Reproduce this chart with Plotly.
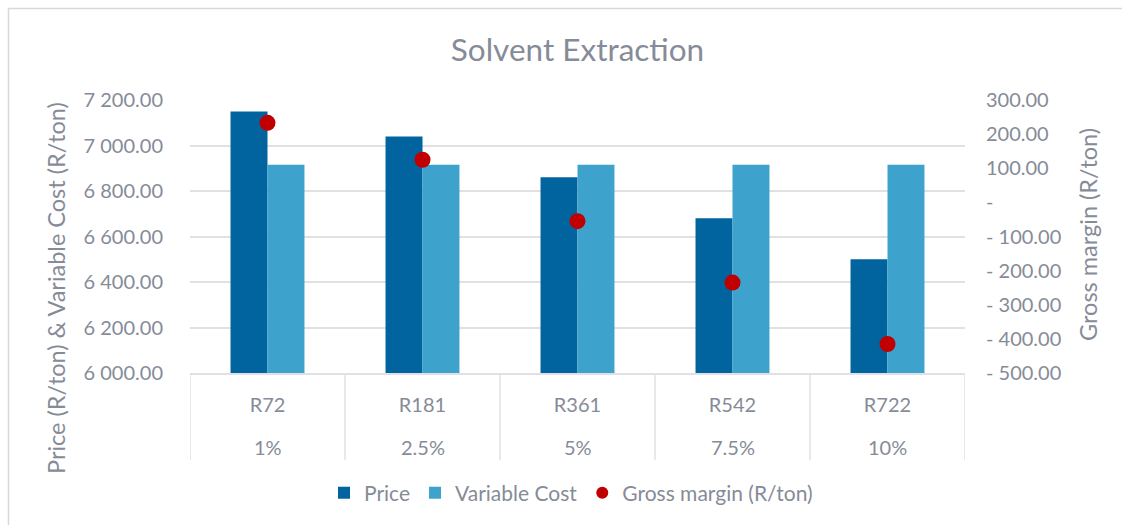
import plotly.graph_objects as go

categories = ["R72", "R181", "R361", "R542", "R722"]
percent_labels = ["1%", "2.5%", "5%", "7.5%", "10%"]
price = [7150, 7040, 6860, 6680, 6500]
variable_cost = [6915, 6915, 6915, 6915, 6915]
gross_margin = [233, 125, -55, -235, -415]

left_tickvals = [6000, 6200, 6400, 6600, 6800, 7000, 7200]
left_ticktext = ["6 000.00", "6 200.00", "6 400.00", "6 600.00", "6 800.00", "7 000.00", "7 200.00"]
right_tickvals = [-500, -400, -300, -200, -100, 0, 100, 200, 300]
right_ticktext = ["- 500.00", "- 400.00", "- 300.00", "- 200.00", "- 100.00", "-", "100.00", "200.00", "300.00"]

FONT = "Lato, Carlito, Calibri, sans-serif"
TXT = "#868b98"
GRID = "#e1e1e4"

fig = go.Figure()
fig.add_trace(go.Bar(name="Price", x=categories, y=price, marker=dict(color="#02649f", line=dict(width=0))))
fig.add_trace(go.Bar(name="Variable Cost", x=categories, y=variable_cost, marker=dict(color="#3ea3cc", line=dict(width=0))))
fig.add_trace(go.Scatter(name="Gross margin (R/ton)", x=categories, y=gross_margin, yaxis="y2",
                         mode="markers", marker=dict(color="#c00000", size=16)))

W, H = 1122, 525
L, R, T, B = 190, 965, 100, 373
pw, ph = R - L, B - T

def px_x(p):
    return (p - L) / pw

def px_y(p):
    return (B - p) / ph

shapes = []
for i in range(len(categories) + 1):
    shapes.append(dict(type="line", xref="x", yref="paper", x0=i - 0.5, x1=i - 0.5,
                       y0=0, y1=px_y(460), line=dict(color=GRID, width=1.5), layer="below"))
shapes.append(dict(type="rect", xref="paper", yref="paper", x0=px_x(8.5), x1=px_x(1200),
                   y0=px_y(600), y1=px_y(8.5), line=dict(color="#d9d9d9", width=1.5)))

annotations = []
for c, p in zip(categories, percent_labels):
    annotations.append(dict(x=c, xref="x", y=px_y(447), yref="paper", text=p, showarrow=False,
                            font=dict(family=FONT, size=20, color=TXT), xanchor="center", yanchor="middle"))
annotations.append(dict(x=px_x(56), xref="paper", y=px_y(288), yref="paper", showarrow=False,
                        text="Price (R/ton) & Variable Cost (R/ton)", textangle=-90,
                        xanchor="center", yanchor="middle",
                        font=dict(family=FONT, size=23.5, color=TXT)))
annotations.append(dict(x=px_x(1088), xref="paper", y=px_y(235), yref="paper", showarrow=False,
                        text="Gross margin (R/ton)", textangle=-90,
                        xanchor="center", yanchor="middle",
                        font=dict(family=FONT, size=23.5, color=TXT)))

fig.update_layout(
    width=W, height=H,
    margin=dict(l=L, r=W - R, t=T, b=H - B, pad=0),
    paper_bgcolor="white", plot_bgcolor="white",
    font=dict(family=FONT, color=TXT, size=20),
    title=dict(text="Solvent Extraction", x=0.5, xref="paper", xanchor="center",
               y=1 - 50 / H, yanchor="middle", font=dict(family=FONT, size=31.5, color=TXT)),
    barmode="group", bargap=0.523, bargroupgap=0,
    xaxis=dict(type="category", showgrid=False, showline=True, linecolor=GRID, linewidth=1.5,
               ticks="", tickfont=dict(family=FONT, size=20, color=TXT), ticklabelstandoff=13,
               range=[-0.5, len(categories) - 0.5]),
    yaxis=dict(range=[6000, 7200], tickvals=left_tickvals, ticktext=left_ticktext,
               showgrid=True, gridcolor=GRID, gridwidth=1.5, zeroline=False, showline=False,
               tickfont=dict(family=FONT, size=20, color=TXT), ticklabelstandoff=26),
    yaxis2=dict(range=[-500, 300], overlaying="y", side="right", tickvals=right_tickvals,
                ticktext=right_ticktext, showgrid=False, zeroline=False, showline=False,
                tickfont=dict(family=FONT, size=20, color=TXT), ticklabelstandoff=20),
    legend=dict(orientation="h", x=px_x(571), xanchor="center", y=px_y(493), yanchor="middle",
                font=dict(family=FONT, size=21, color=TXT), itemsizing="constant",
                bgcolor="rgba(0,0,0,0)"),
    shapes=shapes, annotations=annotations,
)

fig.write_html("out.html")
